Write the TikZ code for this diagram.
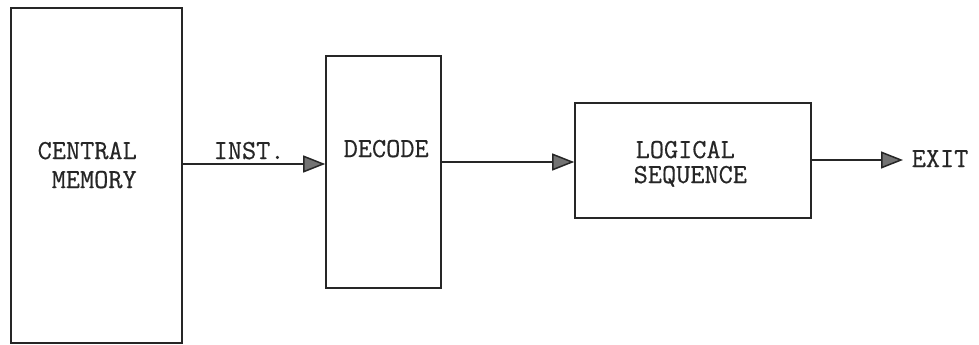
\documentclass[tikz,border=0pt]{standalone}
\usepackage{fontspec}
\setmonofont{Latin Modern Mono}[BoldFont={Latin Modern Mono},BoldFeatures={FakeBold=0.5}]
\usetikzlibrary{arrows.meta}
\begin{document}
\begin{tikzpicture}[x=1pt,y=-1pt,
  blk/.style={draw=black!85,line width=1.6pt,inner sep=0pt},
  lbl/.style={inner sep=0pt,anchor=base west,font=\fontsize{27.5}{30}\ttfamily\bfseries,text=black!85},
  arr/.style={draw=black!85,line width=1.5pt,-{Triangle[length=22pt,width=17pt,fill=black!55]}}]
\useasboundingbox (0,0) rectangle (979,345);
% boxes
\node[blk,minimum width=171pt,minimum height=335pt] (cm) at (96.5,175.5) {};
\node[blk,minimum width=115pt,minimum height=232pt] (dec) at (383.5,172) {};
\node[blk,minimum width=236pt,minimum height=115pt] (ls) at (693,160.5) {};
% texts
\node[lbl] (t1) at (37.5,159) {CENTRAL};
\node[lbl] (t2) at (51.5,188) {MEMORY};
\node[lbl] (t3) at (213.5,159) {INST.};
\node[lbl] (t4) at (343.5,157) {DECODE};
\node[lbl] (t5) at (635.5,158) {LOGICAL};
\node[lbl] (t6) at (633.5,183) {SEQUENCE};
\node[lbl] (t7) at (911.5,167) {EXIT};
% connectors
\coordinate (y1) at (0,164);
\coordinate (y2) at (0,162);
\coordinate (y3) at (0,160);
\coordinate (ex) at (903,160);
\draw[arr] (cm.east |- y1) -- (dec.west |- y1);
\draw[arr] (dec.east |- y2) -- (ls.west |- y2);
\draw[arr] (ls.east |- y3) -- (ex);
\end{tikzpicture}
\end{document}
